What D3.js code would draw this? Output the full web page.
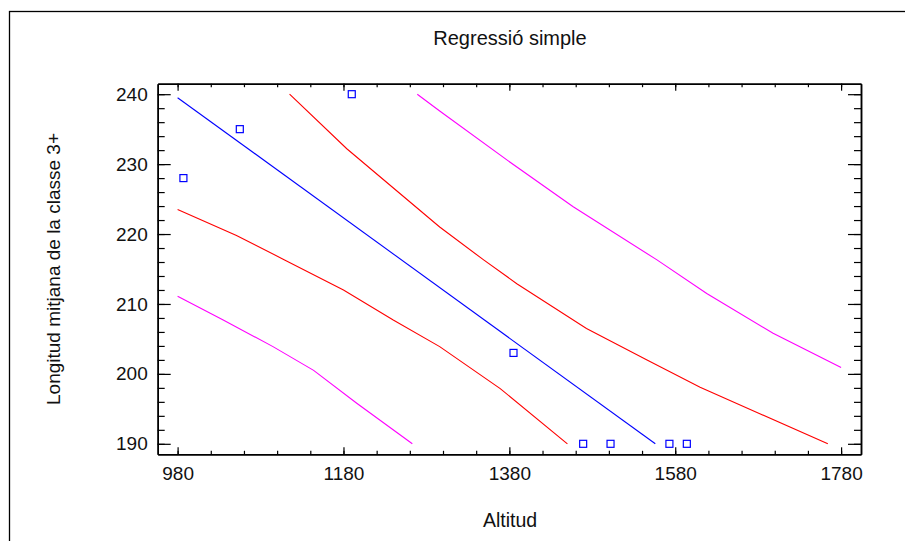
<!DOCTYPE html>
<html lang="ca">
<head>
<meta charset="UTF-8">
<title>Regressió simple</title>
<script src="https://d3js.org/d3.v7.min.js"></script>
<style>
    body { margin: 0; background: #fff; font-family: 'Liberation Sans', Arial, sans-serif; }
    svg { display: block; }
    .axis path { stroke: #000; stroke-width: 1.5px; }
    .axis line { stroke: #000; stroke-width: 1.2px; }
    .axis text { font-size: 19px; fill: #111; font-family: 'Liberation Sans', Arial, sans-serif; }
    .band { fill: none; stroke-width: 1.1px; }
</style>
</head>
<body>
<script>
    // observations
    const altitud = [987, 1055, 1190, 1385, 1469, 1502, 1573, 1594];
    const longitud = [228, 235, 240, 203, 190, 190, 190, 190];

    // fitted line
    const fitX = [980, 1556];
    const fitY = [239.5, 190];

    // confidence limits (red)
    const confUpperX = [1115, 1184, 1296, 1349, 1389, 1473, 1546, 1610, 1682, 1764];
    const confUpperY = [240, 232.2, 221.0, 216.3, 212.9, 206.5, 202.0, 198.1, 194.3, 190];
    const confLowerX = [980, 1051, 1109, 1180, 1240, 1296, 1369, 1450];
    const confLowerY = [223.5, 219.8, 216.3, 212.0, 207.7, 203.9, 197.9, 190];

    // prediction limits (magenta)
    const predUpperX = [1269, 1296, 1377, 1457, 1558, 1618, 1698, 1780];
    const predUpperY = [240, 237.6, 230.6, 223.9, 216.3, 211.5, 205.8, 200.9];
    const predLowerX = [980, 1035, 1095, 1144, 1196, 1263];
    const predLowerY = [211.1, 207.7, 203.9, 200.5, 195.8, 190];

    const xTicks = [980, 1180, 1380, 1580, 1780];
    const yTicks = [190, 200, 210, 220, 230, 240];

    const width = 905, height = 541;
    const plot = { left: 157.7, right: 861, top: 83.7, bottom: 454.3 };

    const svg = d3.select("body").append("svg")
        .attr("width", width)
        .attr("height", height);

    // outer frame, runs off the right and bottom edges
    svg.append("rect")
        .attr("x", 9.5).attr("y", 11.5)
        .attr("width", width).attr("height", height)
        .attr("fill", "none")
        .attr("stroke", "#000")
        .attr("stroke-width", 1.3);

    const x = d3.scaleLinear().domain([956, 1804]).range([plot.left, plot.right]);
    const y = d3.scaleLinear().domain([188.5, 241.5]).range([plot.bottom, plot.top]);

    const xMinor = d3.range(980, 1781, 40);
    const yMinor = d3.range(190, 241, 2);

    function drawAxis(axisFn, scale, major, minor, majorLen, minorLen, transform, labels) {
        svg.append("g").attr("class", "axis").attr("transform", transform)
            .call(axisFn(scale).tickValues(minor).tickFormat("").tickSizeInner(-minorLen).tickSizeOuter(0));
        const g = svg.append("g").attr("class", "axis").attr("transform", transform)
            .call(axisFn(scale).tickValues(major).tickSizeInner(-majorLen).tickSizeOuter(0)
                .tickPadding(8).tickFormat(labels ? d3.format("d") : ""));
        return g;
    }

    drawAxis(d3.axisBottom, x, xTicks, xMinor, 7, 3.5, `translate(0,${plot.bottom})`, true)
        .selectAll("text").attr("dy", "0.92em");
    drawAxis(d3.axisTop, x, xTicks, xMinor, 7, 3.5, `translate(0,${plot.top})`, false);
    drawAxis(d3.axisLeft, y, yTicks, yMinor, 13, 7, `translate(${plot.left},0)`, true)
        .selectAll("text").attr("x", -10);
    drawAxis(d3.axisRight, y, yTicks, yMinor, 13, 7, `translate(${plot.right},0)`, false);

    const line = d3.line().x(d => x(d[0])).y(d => y(d[1]));
    const pairs = (xs, ys) => xs.map((v, i) => [v, ys[i]]);

    const curves = [
        { xs: predLowerX, ys: predLowerY, color: "#ff00ff" },
        { xs: predUpperX, ys: predUpperY, color: "#ff00ff" },
        { xs: confLowerX, ys: confLowerY, color: "#ff0000" },
        { xs: confUpperX, ys: confUpperY, color: "#ff0000" },
        { xs: fitX, ys: fitY, color: "#0000ff" }
    ];

    svg.append("g").selectAll("path")
        .data(curves)
        .enter().append("path")
        .attr("class", "band")
        .attr("stroke", d => d.color)
        .attr("d", d => line(pairs(d.xs, d.ys)));

    const s = 7;
    svg.append("g").selectAll("rect")
        .data(pairs(altitud, longitud))
        .enter().append("rect")
        .attr("x", d => x(d[0]) - s / 2)
        .attr("y", d => y(d[1]) - s / 2)
        .attr("width", s).attr("height", s)
        .attr("fill", "none")
        .attr("stroke", "#0000ff")
        .attr("stroke-width", 1.2);

    svg.append("text")
        .attr("x", 510).attr("y", 45)
        .attr("text-anchor", "middle")
        .attr("font-size", 20)
        .attr("fill", "#111")
        .text("Regressió simple");

    svg.append("text")
        .attr("x", 510).attr("y", 527)
        .attr("text-anchor", "middle")
        .attr("font-size", 19.5)
        .attr("fill", "#111")
        .text("Altitud");

    svg.append("text")
        .attr("transform", `translate(60,${(plot.top + plot.bottom) / 2}) rotate(-90)`)
        .attr("text-anchor", "middle")
        .attr("font-size", 19)
        .attr("fill", "#111")
        .text("Longitud mitjana de la classe 3+");
</script>
</body>
</html>
